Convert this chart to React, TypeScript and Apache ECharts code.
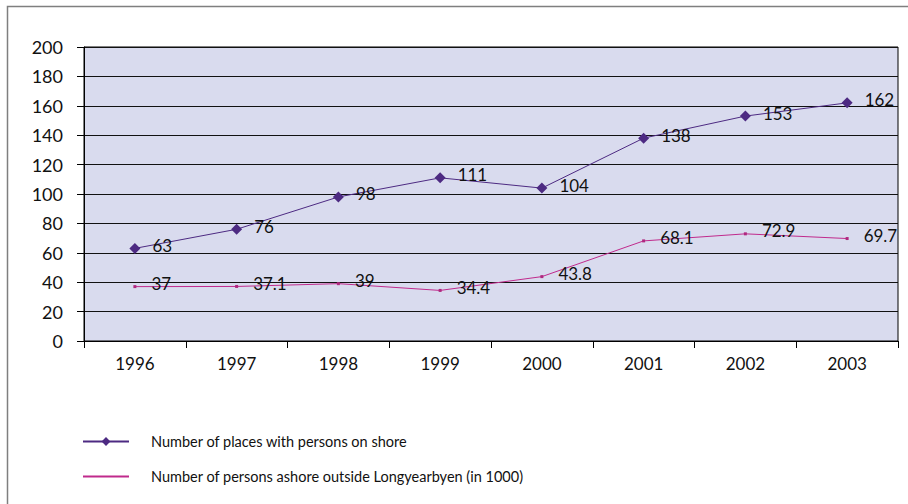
import React, { useEffect, useRef } from "react";
import * as echarts from "echarts";

const years = ["1996", "1997", "1998", "1999", "2000", "2001", "2002", "2003"];
const places = [63, 76, 98, 111, 104, 138, 153, 162];
const persons = [37, 37.1, 39, 34.4, 43.8, 68.1, 72.9, 69.7];
const yTicks = [0, 20, 40, 60, 80, 100, 120, 140, 160, 180, 200];

const FONT = "Lato";

export default function App() {
  const ref = useRef<HTMLDivElement>(null);
  useEffect(() => {
    document.body.style.margin = "0";
    const chart = echarts.init(ref.current!, null, { renderer: "svg" });
    chart.setOption({
      animation: false,
      backgroundColor: "#ffffff",
      textStyle: { fontFamily: FONT },
      graphic: [
        {
          type: "rect",
          shape: { x: 7.5, y: 6.5, width: 920, height: 520 },
          style: { fill: "none", stroke: "#7f7f7f", lineWidth: 1.5 },
          silent: true,
          z: -1,
        },
      ],
      grid: {
        left: 84,
        top: 47,
        width: 814,
        height: 294,
        show: true,
        backgroundColor: "#d9dbee",
        borderColor: "#000",
        borderWidth: 1,
      },
      legend: {
        orient: "vertical",
        left: 77,
        top: 429,
        itemGap: 20,
        itemWidth: 46,
        itemHeight: 11,
        textStyle: { fontFamily: FONT, fontSize: 14.5, color: "#111", padding: [0, 0, 0, 17] },
        data: [
          { name: "Number of places with persons on shore" },
          {
            name: "Number of persons ashore outside Longyearbyen (in 1000)",
            itemStyle: { opacity: 0 },
          },
        ],
      },
      xAxis: {
        type: "category",
        data: years,
        boundaryGap: true,
        axisLine: { lineStyle: { color: "#000", width: 1 } },
        axisTick: { show: true, length: 7, inside: false, lineStyle: { color: "#000" } },
        axisLabel: { fontFamily: FONT, fontSize: 17, color: "#111", margin: 14 },
        splitLine: { show: false },
      },
      yAxis: {
        type: "value",
        min: 0,
        max: 200,
        interval: 20,
        axisLine: { show: true, lineStyle: { color: "#000", width: 1 } },
        axisTick: { show: true, length: 7, lineStyle: { color: "#000" } },
        axisLabel: {
          fontFamily: FONT,
          fontSize: 18,
          color: "#111",
          margin: 21,
          formatter: (v: number) => (yTicks.includes(v) ? String(v) : ""),
        },
        splitLine: { show: true, lineStyle: { color: "#111", width: 1 } },
      },
      series: [
        {
          name: "Number of places with persons on shore",
          type: "line",
          data: places,
          color: "#4d2a82",
          symbol: "diamond",
          symbolSize: [11, 11],
          lineStyle: { width: 1, color: "#4d2a82" },
          itemStyle: { color: "#4d2a82" },
          label: {
            show: true,
            position: "right",
            distance: 12,
            offset: [0, -3],
            fontFamily: FONT,
            fontSize: 17,
            color: "#111",
          },
        },
        {
          name: "Number of persons ashore outside Longyearbyen (in 1000)",
          type: "line",
          data: persons,
          color: "#c02a8c",
          symbol: "rect",
          symbolSize: 3,
          lineStyle: { width: 1, color: "#c02a8c" },
          itemStyle: { color: "#b0287f" },
          label: {
            show: true,
            position: "right",
            distance: 15,
            offset: [0, -3],
            fontFamily: FONT,
            fontSize: 17,
            color: "#111",
          },
        },
      ],
    });
    return () => chart.dispose();
  }, []);
  return <div ref={ref} style={{ width: 908, height: 504 }} />;
}
